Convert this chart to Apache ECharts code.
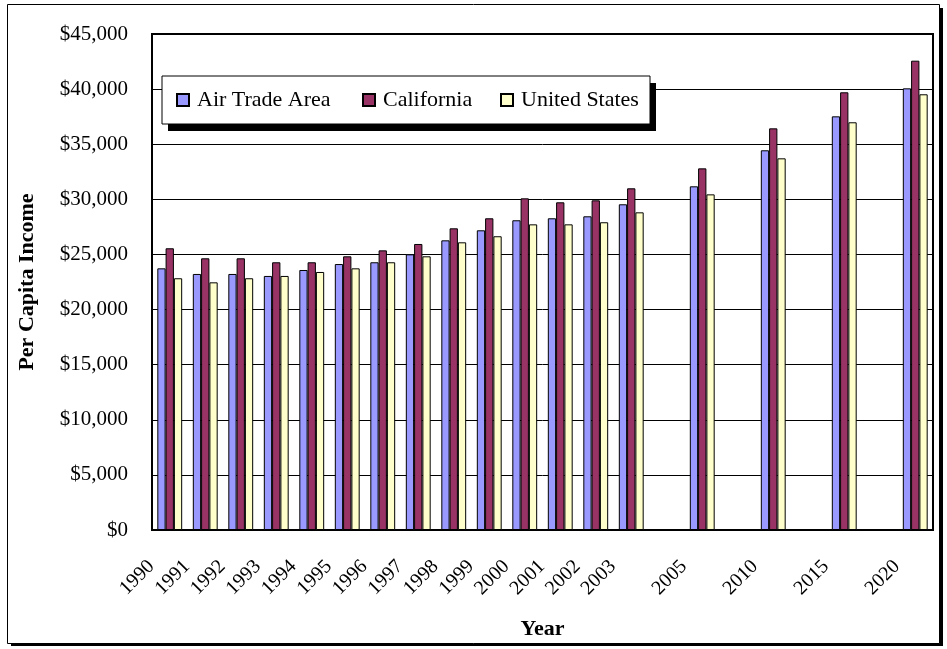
<!DOCTYPE html>
<html>
<head>
<meta charset="utf-8">
<title>Per Capita Income</title>
<script src="https://cdn.jsdelivr.net/npm/echarts@6/dist/echarts.min.js"></script>
<style>
  html, body { margin: 0; padding: 0; background: #ffffff; }
  #chart { width: 947px; height: 649px; }
</style>
</head>
<body>
<div id="chart"></div>
<script>
// Categories along the x axis; empty slots keep the spacing between the forecast years
const years = ['1990', '1991', '1992', '1993', '1994', '1995', '1996', '1997', '1998', '1999',
  '2000', '2001', '2002', '2003', '', '2005', '', '2010', '', '2015', '', '2020'];

// Per capita income, dollars
const airTradeArea = [23740, 23230, 23230, 23050, 23590, 24130, 24290, 25010, 26280, 27190,
  28100, 28280, 28460, 29550, null, 31180, null, 34450, null, 37530, null, 40070];
const california = [25560, 24650, 24650, 24290, 24290, 24830, 25370, 25950, 27370, 28280,
  30090, 29730, 29910, 31000, null, 32810, null, 36440, null, 39710, null, 42580];
const unitedStates = [22840, 22470, 22840, 23050, 23410, 23740, 24290, 24830, 26100, 26650,
  27730, 27730, 27920, 28820, null, 30450, null, 33720, null, 36990, null, 39530];

// Y axis range and step
const yMin = 0;
const yMax = 45000;
const yStep = 5000;

const seriesNames = ['Air Trade Area', 'California', 'United States'];
const seriesColors = ['#9999ff', '#993366', '#ffffcc'];

const serif = '"Liberation Serif", "Times New Roman", serif';

function money(v) {
  return '$' + String(v).replace(/\B(?=(\d{3})+(?!\d))/g, ',');
}

const chart = echarts.init(document.getElementById('chart'), null, { renderer: 'canvas' });

function barSeries(name, data, color) {
  return {
    name: name,
    type: 'bar',
    data: data,
    barGap: '0%',
    barCategoryGap: '30%',
    itemStyle: { color: color, borderColor: '#000000', borderWidth: 1 },
    emphasis: { disabled: true },
    animation: false
  };
}

chart.setOption({
  animation: false,
  backgroundColor: '#ffffff',
  textStyle: { fontFamily: serif, color: '#000000' },
  graphic: [
    // page frame with its drop shadow
    {
      type: 'rect', z: -10, silent: true,
      shape: { x: 11, y: 8, width: 932, height: 638 },
      style: { fill: '#000000' }
    },
    {
      type: 'rect', z: -9, silent: true,
      shape: { x: 7.5, y: 4.5, width: 932, height: 639 },
      style: { fill: '#ffffff', stroke: '#000000', lineWidth: 1 }
    },
    // drop shadow under the legend box
    {
      type: 'rect', z: 3, silent: true,
      shape: { x: 168, y: 83, width: 488, height: 48 },
      style: { fill: '#000000' }
    }
  ],
  grid: {
    left: 152,
    right: 14,
    top: 34,
    bottom: 119,
    show: true,
    backgroundColor: '#ffffff',
    borderColor: '#000000',
    borderWidth: 2,
    containLabel: false
  },
  legend: {
    left: 162,
    top: 76,
    z: 4,
    orient: 'horizontal',
    icon: 'rect',
    itemWidth: 12,
    itemHeight: 12,
    itemGap: 26,
    padding: [13, 8, 13, 14],
    backgroundColor: '#ffffff',
    borderColor: '#000000',
    borderWidth: 1,
    selectedMode: false,
    textStyle: {
      fontFamily: serif, fontSize: 22, color: '#000000',
      padding: [0, 0, 0, 3], lineHeight: 21
    },
    data: [
      { name: seriesNames[0], textStyle: { width: 139 } },
      { name: seriesNames[1], textStyle: { width: 91 } },
      { name: seriesNames[2], textStyle: { width: 121 } }
    ]
  },
  xAxis: {
    type: 'category',
    data: years,
    boundaryGap: true,
    name: 'Year',
    nameLocation: 'middle',
    nameGap: 88,
    nameTextStyle: { fontFamily: serif, fontSize: 22, fontWeight: 'bold', color: '#000000' },
    axisLine: { show: true, lineStyle: { color: '#000000', width: 2 } },
    axisTick: { show: false },
    splitLine: { show: false },
    axisLabel: {
      interval: 0,
      rotate: 45,
      margin: 15,
      padding: [0, 26, 0, 0],
      fontFamily: serif,
      fontSize: 20,
      color: '#000000'
    }
  },
  yAxis: {
    type: 'value',
    min: yMin,
    max: yMax,
    interval: yStep,
    name: 'Per Capita Income',
    nameLocation: 'middle',
    nameGap: 114,
    nameTextStyle: { fontFamily: serif, fontSize: 22, fontWeight: 'bold', color: '#000000' },
    axisLine: { show: true, lineStyle: { color: '#000000', width: 2 } },
    axisTick: { show: false },
    splitLine: { show: true, lineStyle: { color: '#000000', width: 1 } },
    axisLabel: {
      margin: 24,
      fontFamily: serif,
      fontSize: 21,
      color: '#000000',
      formatter: money
    }
  },
  series: [
    barSeries(seriesNames[0], airTradeArea, seriesColors[0]),
    barSeries(seriesNames[1], california, seriesColors[1]),
    barSeries(seriesNames[2], unitedStates, seriesColors[2])
  ]
});
</script>
</body>
</html>
